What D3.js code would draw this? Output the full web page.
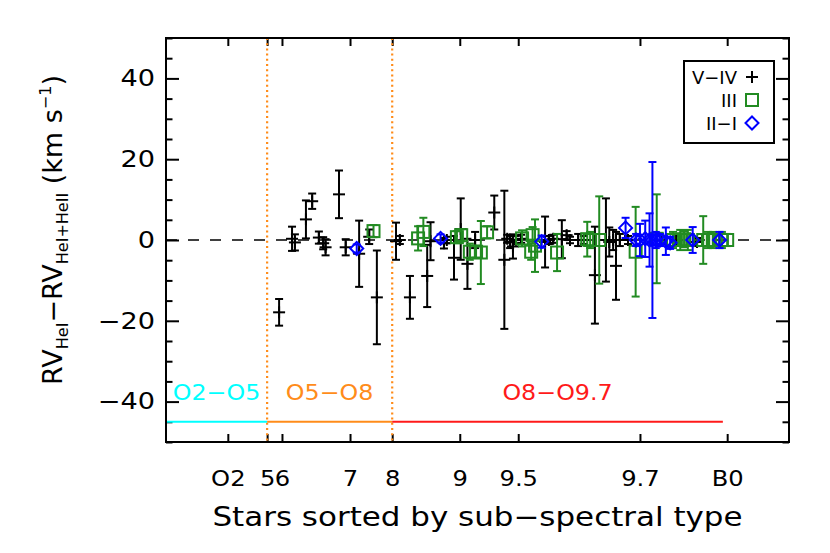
<!DOCTYPE html>
<html><head><meta charset="utf-8">
<script src="https://cdn.jsdelivr.net/npm/d3@7"></script>
<style>body{margin:0;background:#fff}</style>
</head><body>
<svg id="c" width="830" height="553"></svg>
<script>
// ---- data ----
const xTickLabels = ["O2","5","6","7","8","9","9.5","9.7","B0"];
const xTickRanks  = [12.9,21.1,24.2,38.4,47.2,61.3,73.5,98.9,117.1];
const yTickValues = [-40,-20,0,20,40];

const regionNames  = ["O2\u2212O5","O5\u2212O8","O8\u2212O9.7"];
const regionStart  = [0,21.1,47.2];
const regionEnd    = [21.1,47.2,116.2];
const regionColors = ["#00ffff","#ff8c1a","#ff1a1a"];
const regionLevel  = -45;
const boundaryRanks = [21.1,47.2];

// luminosity class V-IV (black +)
const dwarfRank = [23.6,26.3,26.9,29.2,30.5,31.9,32.8,33.3,36.1,37.5,40.3,42.4,44.0,48.0,48.8,50.9,54.5,55.2,58.0,58.6,60.1,61.5,62.9,64.5,68.5,70.6,71.2,71.8,72.4,73.0,74.1,79.1,79.9,80.8,82.6,83.6,84.3,86.0,87.2,89.5,91.8,92.5,93.3,93.9,94.7,96.4,103.5,106.4,110.8];
const dwarfRV   = [-17.9,0.3,-0.6,5.1,9.6,0.6,-0.8,-1.8,11.3,-1.8,-3.4,0.8,-14.2,-0.3,0.0,-14.2,-8.9,-0.3,-0.8,0.0,-4.4,2.7,-5.9,0.0,6.8,-4.9,0.3,-0.5,-1.6,0.0,0.3,-0.5,0.0,0.3,0.2,1.2,0.0,0.0,0.0,-8.7,0.0,-0.5,0.0,-6.4,0.0,0.0,0.0,0.0,-0.5];
const dwarfErr  = [3.3,3.0,2.0,4.7,1.9,1.5,1.5,2.0,5.9,2.0,8.2,1.8,11.6,4.6,1.0,5.3,7.7,4.7,1.3,0.8,5.4,7.6,6.2,2.0,4.2,17.1,1.0,1.5,3.0,1.0,1.0,6.3,1.0,1.0,4.7,1.0,0.8,1.5,1.0,12.0,10.3,3.6,2.5,8.4,1.5,1.0,1.0,1.0,1.0];

// luminosity class III (green squares)
const giantRank = [43.3,52.6,53.7,60.7,61.6,63.4,64.7,65.7,67.0,74.3,76.2,76.5,77.0,81.6,87.9,88.5,90.4,98.0,102.4,105.8,107.3,108.1,108.9,112.1,113.1,114.1,116.0,117.1];
const giantRV   = [2.2,0.4,2.0,0.7,1.2,-2.9,-2.9,-3.1,1.9,0.4,-2.9,1.2,-1.4,-3.1,0.2,0.0,0.0,-2.9,0.3,0.0,0.0,0.2,0.0,0.0,0.0,0.0,0.0,0.0];
const giantErr  = [1.5,3.0,3.5,1.5,1.5,2.0,1.5,7.8,1.5,2.0,2.0,2.0,6.5,4.6,4.3,2.0,10.8,11.1,11.0,2.0,2.5,2.0,2.5,5.9,2.0,2.0,2.0,1.5];

// luminosity class II-I (blue diamonds)
const superRank = [39.8,57.3,78.4,95.9,98.1,98.9,100.0,100.9,101.5,102.2,103.1,104.3,105.2,109.9,115.5];
const superRV   = [-2.1,0.4,-0.4,3.0,0.0,0.0,0.3,0.0,0.0,0.0,0.0,-0.3,-0.7,0.0,0.0];
const superErr  = [1.0,1.0,1.5,2.5,1.5,4.0,4.5,6.6,19.3,2.0,1.5,3.4,1.5,3.2,2.0];

const legendLabels = ["V\u2212IV","III","II\u2212I"];
const legendColors = ["#000000","#228b22","#0000ff"];
const legendMarkers = ["plus","square","diamond"];

// ---- layout ----
const L=166,R=789,T=38,B=442;
const FONT = "DejaVu Sans";
const svg = d3.select("#c");
svg.append("rect").attr("width",830).attr("height",553).attr("fill","#fff");

const x = d3.scaleLinear().domain([0,130]).range([L,R]);
const y = d3.scaleLinear().domain([-50,50]).range([B,T]);

function widen(sel,f){
  sel.each(function(){
    const n=this.getComputedTextLength();
    d3.select(this).attr("textLength",n*f).attr("lengthAdjust","spacingAndGlyphs");
  });
}
function styleAxis(g){
  g.attr("font-family",FONT);
  g.selectAll("path.domain").remove();
  g.selectAll("line").attr("stroke","#000").attr("stroke-width",2);
  g.selectAll("text").attr("fill","#000");
}

// minor y ticks
const minorVals = d3.range(-50,51,5).filter(v=>v%20!==0);
svg.append("g").attr("transform",`translate(${L},0)`)
  .call(d3.axisLeft(y).tickValues(minorVals).tickSize(-6.5).tickFormat("")).call(styleAxis);
svg.append("g").attr("transform",`translate(${R},0)`)
  .call(d3.axisRight(y).tickValues(minorVals).tickSize(-6.5).tickFormat("")).call(styleAxis);
// major y ticks
svg.append("g").attr("transform",`translate(${L},0)`)
  .call(d3.axisLeft(y).tickValues(yTickValues).tickSize(-13).tickPadding(11)
    .tickFormat(d=> d<0 ? "\u2212"+Math.abs(d) : String(d)))
  .call(styleAxis).selectAll("text").attr("font-size",23).call(widen,1.18);
svg.append("g").attr("transform",`translate(${R},0)`)
  .call(d3.axisRight(y).tickValues(yTickValues).tickSize(-13).tickFormat("")).call(styleAxis);
// x ticks
svg.append("g").attr("transform",`translate(0,${B})`)
  .call(d3.axisBottom(x).tickValues(xTickRanks).tickSize(-8).tickPadding(28)
    .tickFormat((d,i)=>xTickLabels[i]))
  .call(styleAxis).selectAll("text").attr("font-size",22).call(widen,1.1);
svg.append("g").attr("transform",`translate(0,${T})`)
  .call(d3.axisTop(x).tickValues(xTickRanks).tickSize(-8).tickFormat("")).call(styleAxis);

// zero dashed line
svg.append("line").attr("x1",L).attr("x2",R).attr("y1",y(0)).attr("y2",y(0))
  .attr("stroke","#000").attr("stroke-width",1.6).attr("stroke-dasharray","11,11");

// region boundaries
svg.selectAll(".bnd").data(boundaryRanks).enter().append("line")
  .attr("x1",d=>x(d)).attr("x2",d=>x(d)).attr("y1",T).attr("y2",B)
  .attr("stroke","#ff8c1a").attr("stroke-width",2.2).attr("stroke-dasharray","2,3.2");

// region bars and labels
regionNames.forEach((name,i)=>{
  svg.append("line").attr("x1",x(regionStart[i])).attr("x2",x(regionEnd[i]))
    .attr("y1",y(regionLevel)).attr("y2",y(regionLevel))
    .attr("stroke",regionColors[i]).attr("stroke-width",2);
  svg.append("text").attr("x",x((regionStart[i]+regionEnd[i])/2)).attr("y",y(-39.7))
    .attr("text-anchor","middle").attr("font-family",FONT).attr("font-size",22)
    .attr("fill",regionColors[i]).text(name).call(widen,1.08);
});

// series
function drawSeries(ranks, vals, errs, color, marker){
  const g = svg.append("g").attr("stroke",color).attr("stroke-width",2).attr("fill","none");
  ranks.forEach((r,i)=>{
    const cx=x(r), cy=y(vals[i]), y1=y(vals[i]+errs[i]), y2=y(vals[i]-errs[i]);
    g.append("line").attr("x1",cx).attr("x2",cx).attr("y1",y1).attr("y2",y2);
    g.append("line").attr("x1",cx-4).attr("x2",cx+4).attr("y1",y1).attr("y2",y1);
    g.append("line").attr("x1",cx-4).attr("x2",cx+4).attr("y1",y2).attr("y2",y2);
    drawMarker(g,marker,cx,cy);
  });
}
function drawMarker(g,marker,cx,cy){
  if(marker==="plus"){
    g.append("line").attr("x1",cx-6).attr("x2",cx+6).attr("y1",cy).attr("y2",cy);
    g.append("line").attr("x1",cx).attr("x2",cx).attr("y1",cy-6).attr("y2",cy+6);
  } else if(marker==="square"){
    g.append("rect").attr("x",cx-6).attr("y",cy-6).attr("width",12).attr("height",12);
  } else {
    g.append("path").attr("d",`M${cx},${cy-6.5}L${cx+6.5},${cy}L${cx},${cy+6.5}L${cx-6.5},${cy}Z`);
  }
}
drawSeries(dwarfRank,dwarfRV,dwarfErr,legendColors[0],"plus");
drawSeries(giantRank,giantRV,giantErr,legendColors[1],"square");
drawSeries(superRank,superRV,superErr,legendColors[2],"diamond");

// frame
svg.append("rect").attr("x",L).attr("y",T).attr("width",R-L).attr("height",B-T)
  .attr("fill","none").attr("stroke","#000").attr("stroke-width",2);

// legend
svg.append("rect").attr("x",684).attr("y",61).attr("width",90).attr("height",82)
  .attr("fill","#fff").attr("stroke","#000").attr("stroke-width",2);
const rowY=[77,100,123];
legendLabels.forEach((lab,i)=>{
  svg.append("text").attr("x",737).attr("y",rowY[i]+6.5).attr("text-anchor","end")
    .attr("font-family",FONT).attr("font-size",18).attr("fill","#000").text(lab);
  const g=svg.append("g").attr("stroke",legendColors[i]).attr("stroke-width",2).attr("fill","none");
  drawMarker(g,legendMarkers[i],752,rowY[i]);
});

// axis titles
svg.append("text").attr("x",(L+R)/2).attr("y",526).attr("text-anchor","middle")
  .attr("font-family",FONT).attr("font-size",26).attr("fill","#000")
  .text("Stars sorted by sub\u2212spectral type").call(widen,1.19);

const yt = svg.append("text").attr("transform","translate(62,230) rotate(-90)")
  .attr("text-anchor","middle").attr("font-family",FONT).attr("font-size",27).attr("fill","#000");
yt.append("tspan").text("RV");
yt.append("tspan").attr("font-size",16).attr("dy",6).text("HeI");
yt.append("tspan").attr("dy",-6).text("\u2212RV");
yt.append("tspan").attr("font-size",16).attr("dy",6).text("HeI+HeII");
yt.append("tspan").attr("dy",-6).text(" (km s");
yt.append("tspan").attr("font-size",16).attr("dy",-11).text("\u22121");
yt.append("tspan").attr("dy",11).text(")");
</script></body></html>
